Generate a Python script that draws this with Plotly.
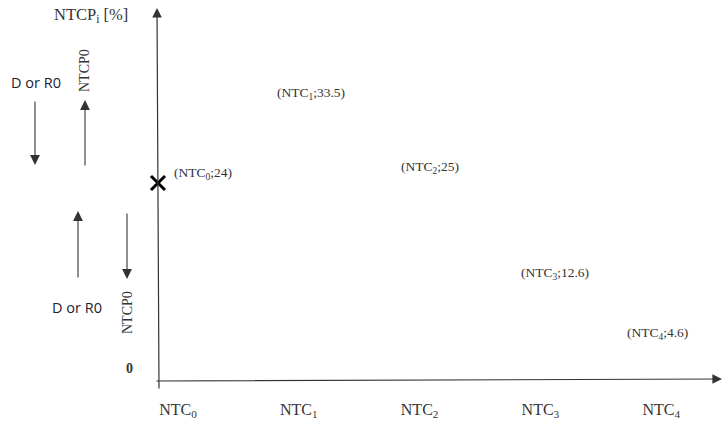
import plotly.graph_objects as go

# ---- data ----
categories = ["NTC<sub>0</sub>", "NTC<sub>1</sub>", "NTC<sub>2</sub>", "NTC<sub>3</sub>", "NTC<sub>4</sub>"]
ntcp_values = [24, 33.5, 25, 12.6, 4.6]
point_labels = ["(NTC<sub>0</sub>;24)", "(NTC<sub>1</sub>;33.5)", "(NTC<sub>2</sub>;25)",
                "(NTC<sub>3</sub>;12.6)", "(NTC<sub>4</sub>;4.6)"]
y_title = "NTCP<sub>i</sub> [%]"

# ---- style / layout helpers ----
W, H = 723, 424
ML, MR, MT, MB = 158, 0, 8, 43
PW, PH = W - ML - MR, H - MT - MB
XSTEP = 120.8          # px per category
YSTEP = 8.25           # px per percent
label_shift_x = [14, -4, -1, -1, -16]
label_shift_y = [10, 11, 7, 4, 10]

def fx(px):
    return (px - ML) / PW

def fy(py):
    return (H - MB - py) / PH

serif = "Liberation Serif"
sans = "Open Sans"

fig = go.Figure()

# marker for the NTC0 point
fig.add_trace(go.Scatter(
    x=[0], y=[ntcp_values[0]], mode="markers",
    marker=dict(symbol="x-thin", size=14, line=dict(width=3, color="black"), color="black"),
    showlegend=False, hoverinfo="skip", cliponaxis=False))

# invisible points for the others (keeps axis scaling data driven)
fig.add_trace(go.Scatter(
    x=list(range(1, len(categories))), y=ntcp_values[1:], mode="markers",
    marker=dict(size=1, opacity=0), showlegend=False, hoverinfo="skip"))

annotations = []
for i, (v, lab) in enumerate(zip(ntcp_values, point_labels)):
    annotations.append(dict(x=i, y=v, xref="x", yref="y", text=lab, showarrow=False,
                            xanchor="left", yanchor="middle",
                            xshift=label_shift_x[i], yshift=label_shift_y[i],
                            font=dict(family=serif, size=13.5, color="#333")))

# arrows drawn in screen pixels
def arrow(x0, y0, x1, y1, width=1.1, size=1.8):
    annotations.append(dict(x=fx(x1), y=fy(y1), xref="paper", yref="paper",
                            ax=x0 - x1, ay=y0 - y1, axref="pixel", ayref="pixel",
                            text="", showarrow=True, arrowhead=2, arrowsize=size,
                            arrowwidth=width, arrowcolor="#333"))

# axes
arrow(155, 381, 722, 379, 1.2, 1.6)
arrow(159, 390, 157, 8, 1.2, 1.6)

# left-side arrows
arrow(35, 100, 35, 165)
arrow(85, 167, 85, 100)
arrow(78, 279, 78, 211)
arrow(127, 212, 127, 279)

def text(px, py, t, family, size, angle=0, color="#222"):
    annotations.append(dict(x=fx(px), y=fy(py), xref="paper", yref="paper", text=t,
                            showarrow=False, textangle=angle, xanchor="center", yanchor="middle",
                            font=dict(family=family, size=size, color=color)))

text(36, 82, "D or R0", sans, 14.5, color="#1c2233")
text(84, 71, "NTCP0", serif, 14, angle=-90, color="#333")
text(77, 307, "D or R0", sans, 14.5, color="#1c2233")
text(127, 313, "NTCP0", serif, 14, angle=-90, color="#333")
text(91, 15, y_title, serif, 16.5, color="#333")
text(129, 368, "<b>0</b>", serif, 14, color="#333")

fig.update_layout(
    width=W, height=H,
    margin=dict(l=ML, r=MR, t=MT, b=MB),
    paper_bgcolor="white", plot_bgcolor="white",
    annotations=annotations,
    xaxis=dict(range=[0, PW / XSTEP], showgrid=False, zeroline=False,
               showline=False, ticks="", tickvals=list(range(len(categories))), ticktext=categories,
               tickfont=dict(family=serif, size=16, color="#333"), ticklabelstandoff=17,
               ticklabelshift=20, fixedrange=True),
    yaxis=dict(range=[0, PH / YSTEP], showgrid=False, zeroline=False, showline=False,
               showticklabels=False, ticks="", fixedrange=True),
)

fig.write_html("out.html", config={"displayModeBar": False},
               post_script="document.body.style.margin='0';")
